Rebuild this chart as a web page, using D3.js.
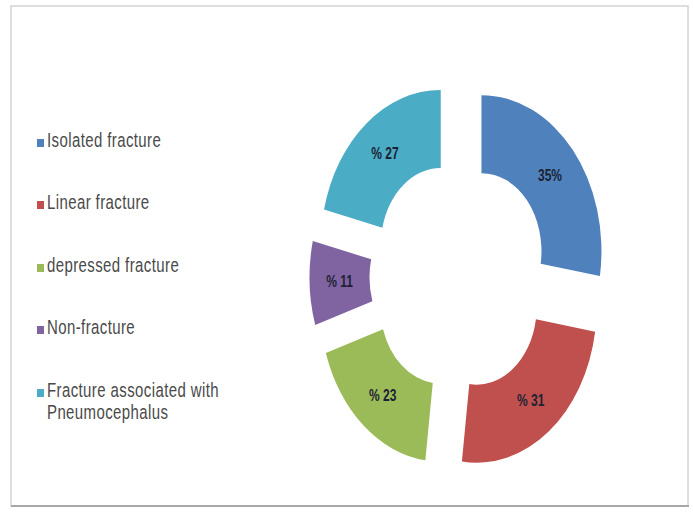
<!DOCTYPE html>
<html>
<head>
<meta charset="utf-8">
<script src="https://cdn.jsdelivr.net/npm/d3@7"></script>
<style>
	body { margin: 0; background: #fff; }
	svg { display: block; }
	.legend text { font-family: "Liberation Sans", Arial, sans-serif; font-size: 15px; fill: #4a4a4a; letter-spacing: 0.4px; }
	.slice_label { font-family: "Liberation Sans", Arial, sans-serif; font-size: 12px; font-weight: bold; fill: #1c2233; }
</style>
</head>
<body>
<div id="main"></div>
<script>
var categories = ["Isolated fracture", "Linear fracture", "depressed fracture", "Non-fracture", "Fracture associated with Pneumocephalus"];
var values = [35, 31, 23, 11, 27];
var value_labels = ["35%", "% 31", "% 23", "% 11", "% 27"];
var colors = ["#4F81BD", "#C0504D", "#9BBB59", "#8064A2", "#4BACC6"];

var width = 693, height = 512;
var stretch = 1.3; // the picture is stretched vertically

var svg = d3.select("#main").append("svg")
	.attr("width", width).attr("height", height);

// frame around the chart
svg.append("rect")
	.attr("x", 11).attr("y", 6).attr("width", 677).attr("height", 500)
	.attr("fill", "#fff").attr("stroke", "#d4d4d4").attr("stroke-width", 1.5);
svg.append("line")
	.attr("x1", 11).attr("x2", 689).attr("y1", 506).attr("y2", 506)
	.attr("stroke", "#a8a8a8").attr("stroke-width", 2);

// donut
var outer_r = 120, inner_r = 60, explode = 29.5;
var chart = svg.append("g").attr("transform", "translate(459,276) scale(1," + stretch + ")");

var pie = d3.pie().sort(null).value(function (d) { return d; });
var arc = d3.arc().innerRadius(inner_r).outerRadius(outer_r);
var label_arc = d3.arc().innerRadius((inner_r + outer_r) / 2).outerRadius((inner_r + outer_r) / 2);

var slices = chart.selectAll(".slice")
	.data(pie(values)).enter()
	.append("g").attr("class", "slice")
	.attr("transform", function (d) {
		var a = (d.startAngle + d.endAngle) / 2;
		return "translate(" + (Math.sin(a) * explode) + "," + (-Math.cos(a) * explode) + ")";
	});

slices.append("path")
	.attr("d", arc)
	.attr("fill", function (d, i) { return colors[i]; });

slices.append("text")
	.attr("class", "slice_label")
	.attr("transform", function (d) {
		var c = label_arc.centroid(d);
		return "translate(" + c[0] + "," + c[1] + ")";
	})
	.attr("text-anchor", "middle")
	.attr("dy", "0.35em")
	.text(function (d, i) { return value_labels[i]; });

// legend
var legend_y = [141, 203, 266, 328, 391];
var legend = svg.append("g").attr("class", "legend");
var items = legend.selectAll("g")
	.data(categories).enter()
	.append("g")
	.attr("transform", function (d, i) { return "translate(37," + legend_y[i] + ")"; });

items.append("rect")
	.attr("x", 0).attr("y", -2).attr("width", 7).attr("height", 8)
	.attr("fill", function (d, i) { return colors[i]; });

items.append("text")
	.attr("transform", "scale(1," + stretch + ")")
	.each(function (d) {
		var t = d3.select(this);
		var lines = d == "Fracture associated with Pneumocephalus" ? ["Fracture associated with", "Pneumocephalus"] : [d];
		lines.forEach(function (l, k) {
			t.append("tspan").attr("x", 10).attr("dy", k == 0 ? "0.3em" : "1.13em").text(l);
		});
	});
</script>
</body>
</html>
